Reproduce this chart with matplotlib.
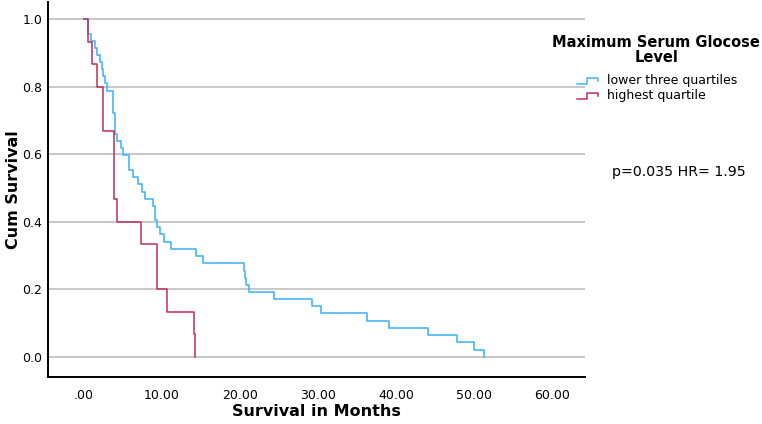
import numpy as np
import matplotlib
matplotlib.use("Agg")
import matplotlib.pyplot as plt
from matplotlib.lines import Line2D

# Kaplan-Meier steps (time in months, survival after the step)
lower_t = [0.00, 0.55, 0.86, 1.41, 1.71, 2.05, 2.27, 2.47, 2.69, 2.91, 3.70, 3.95,
           4.27, 4.70, 4.96, 5.80, 6.32, 6.96, 7.39, 7.82, 8.88, 9.10, 9.40, 9.74,
           10.20, 11.20, 14.40, 15.20, 20.50, 20.60, 20.80, 21.10, 24.40, 29.20,
           30.40, 36.30, 39.10, 44.10, 47.80, 49.90, 51.20]
lower_s = [1.000, 0.957, 0.936, 0.915, 0.894, 0.872, 0.851, 0.830, 0.809, 0.787, 0.723, 0.660,
           0.638, 0.617, 0.596, 0.553, 0.532, 0.511, 0.489, 0.468, 0.447, 0.404, 0.383, 0.362,
           0.340, 0.319, 0.298, 0.277, 0.255, 0.234, 0.213, 0.191, 0.170, 0.149,
           0.128, 0.106, 0.085, 0.064, 0.043, 0.021, 0.000]

high_t = [0.00, 0.55, 1.03, 1.62, 2.48, 3.80, 4.27, 7.30, 9.32, 9.40, 10.60, 14.10, 14.23]
high_s = [1.000, 0.933, 0.867, 0.800, 0.667, 0.467, 0.400, 0.333, 0.267, 0.200, 0.133, 0.067, 0.000]

x_ticks = [0, 10, 20, 30, 40, 50, 60]
x_labels = [".00", "10.00", "20.00", "30.00", "40.00", "50.00", "60.00"]
y_ticks = [0.0, 0.2, 0.4, 0.6, 0.8, 1.0]

blue = "#45B5FA"
red = "#BE2C5E"

fig = plt.figure(figsize=(7.62, 4.24), dpi=100)
ax = fig.add_axes([0.063, 0.111, 0.705, 0.884])

ax.step(lower_t, lower_s, where="post", color=blue, lw=1.2, zorder=3)
ax.step(high_t, high_s, where="post", color=red, lw=1.1, zorder=4)

ax.set_xlim(-4.6, 64.2)
ax.set_ylim(-0.06, 1.05)
ax.set_xticks(x_ticks)
ax.set_xticklabels(x_labels)
ax.set_yticks(y_ticks)
ax.set_yticklabels(["%.1f" % v for v in y_ticks])
ax.tick_params(length=0, labelsize=9)
ax.tick_params(axis="x", pad=9)
ax.tick_params(axis="y", pad=4)
ax.yaxis.grid(True, color="#BDBDBD", lw=1.2)
ax.set_axisbelow(True)

for s in ["top", "right"]:
    ax.spines[s].set_visible(False)
for s in ["left", "bottom"]:
    ax.spines[s].set_linewidth(1.4)
    ax.spines[s].set_color("black")

ax.set_xlabel("Survival in Months", fontsize=11.5, fontweight="bold", va="center")
ax.set_ylabel("Cum Survival", fontsize=11.5, fontweight="bold", va="center")
ax.xaxis.set_label_coords(0.5, -0.093)
ax.yaxis.set_label_coords(-0.064, 0.5)

# legend drawn by hand to get the step-shaped keys
fig.text(0.861, 0.900, "Maximum Serum Glocose", ha="center", va="center",
         fontsize=10.5, fontweight="bold")
fig.text(0.861, 0.865, "Level", ha="center", va="center", fontsize=10.5, fontweight="bold")

for yc, col, lab in [(0.809, blue, "lower three quartiles"), (0.774, red, "highest quartile")]:
    dy = 0.007
    xs = [0.757, 0.770, 0.770, 0.785, 0.785]
    ys = [yc - dy, yc - dy, yc + dy, yc + dy, yc]
    fig.add_artist(Line2D(xs, ys, color=col, lw=1.1, transform=fig.transFigure))
    fig.text(0.797, yc, lab, ha="left", va="center", fontsize=9)

fig.text(0.803, 0.595, "p=0.035 HR= 1.95", ha="left", va="center", fontsize=10.2)

fig.savefig("out.png", dpi=100)
